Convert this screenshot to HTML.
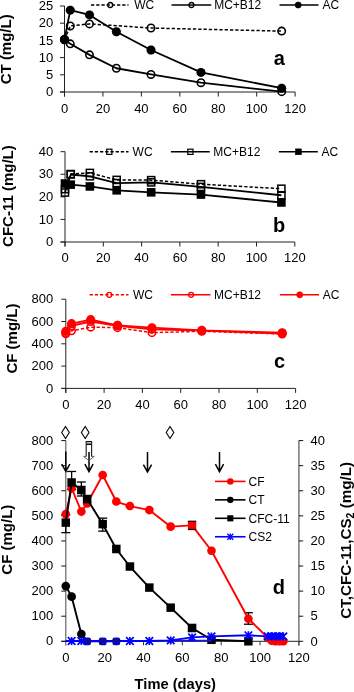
<!DOCTYPE html>
<html><head><meta charset="utf-8"><style>
html,body{margin:0;padding:0;background:#fff;}
body{width:354px;height:692px;overflow:hidden;}
svg{display:block;will-change:transform;}
text{font-family:"Liberation Sans", sans-serif;}
</style></head><body>
<svg width="354" height="692" viewBox="0 0 354 692" font-family="Liberation Sans, sans-serif">
<rect width="354" height="692" fill="#fff"/>
<line x1="64.5" y1="6" x2="64.5" y2="96.5" stroke="#222" stroke-width="1"/>
<line x1="60" y1="92" x2="295.14" y2="92" stroke="#222" stroke-width="1"/>
<line x1="60" y1="92" x2="64.5" y2="92" stroke="#222" stroke-width="1"/>
<text x="53.3" y="96.1" font-size="13" text-anchor="end" font-weight="normal" fill="#000" >0</text>
<line x1="60" y1="74.8" x2="64.5" y2="74.8" stroke="#222" stroke-width="1"/>
<text x="53.3" y="78.9" font-size="13" text-anchor="end" font-weight="normal" fill="#000" >5</text>
<line x1="60" y1="57.6" x2="64.5" y2="57.6" stroke="#222" stroke-width="1"/>
<text x="53.3" y="61.7" font-size="13" text-anchor="end" font-weight="normal" fill="#000" >10</text>
<line x1="60" y1="40.4" x2="64.5" y2="40.4" stroke="#222" stroke-width="1"/>
<text x="53.3" y="44.5" font-size="13" text-anchor="end" font-weight="normal" fill="#000" >15</text>
<line x1="60" y1="23.2" x2="64.5" y2="23.2" stroke="#222" stroke-width="1"/>
<text x="53.3" y="27.3" font-size="13" text-anchor="end" font-weight="normal" fill="#000" >20</text>
<line x1="60" y1="6" x2="64.5" y2="6" stroke="#222" stroke-width="1"/>
<text x="53.3" y="10.1" font-size="13" text-anchor="end" font-weight="normal" fill="#000" >25</text>
<line x1="64.5" y1="92" x2="64.5" y2="96.5" stroke="#222" stroke-width="1"/>
<text x="64.5" y="112.8" font-size="13" text-anchor="middle" font-weight="normal" fill="#000" >0</text>
<line x1="102.94" y1="92" x2="102.94" y2="96.5" stroke="#222" stroke-width="1"/>
<text x="102.94" y="112.8" font-size="13" text-anchor="middle" font-weight="normal" fill="#000" >20</text>
<line x1="141.38" y1="92" x2="141.38" y2="96.5" stroke="#222" stroke-width="1"/>
<text x="141.38" y="112.8" font-size="13" text-anchor="middle" font-weight="normal" fill="#000" >40</text>
<line x1="179.82" y1="92" x2="179.82" y2="96.5" stroke="#222" stroke-width="1"/>
<text x="179.82" y="112.8" font-size="13" text-anchor="middle" font-weight="normal" fill="#000" >60</text>
<line x1="218.26" y1="92" x2="218.26" y2="96.5" stroke="#222" stroke-width="1"/>
<text x="218.26" y="112.8" font-size="13" text-anchor="middle" font-weight="normal" fill="#000" >80</text>
<line x1="256.7" y1="92" x2="256.7" y2="96.5" stroke="#222" stroke-width="1"/>
<text x="256.7" y="112.8" font-size="13" text-anchor="middle" font-weight="normal" fill="#000" >100</text>
<line x1="295.14" y1="92" x2="295.14" y2="96.5" stroke="#222" stroke-width="1"/>
<text x="295.14" y="112.8" font-size="13" text-anchor="middle" font-weight="normal" fill="#000" >120</text>
<polyline points="91,5 128.5,5" fill="none" stroke="#000" stroke-width="1.6" stroke-linejoin="round" stroke-dasharray="3.3,1.9"/>
<circle cx="110.2" cy="5" r="2.5" fill="none" stroke="#000" stroke-width="1.3"/>
<text x="134.3" y="9.2" font-size="12" text-anchor="start" font-weight="normal" fill="#000" >WC</text>
<polyline points="171.5,5 211.2,5" fill="none" stroke="#000" stroke-width="1.5" stroke-linejoin="round"/>
<circle cx="191.4" cy="5" r="2.5" fill="none" stroke="#000" stroke-width="1.3"/>
<text x="214.2" y="9.2" font-size="12" text-anchor="start" font-weight="normal" fill="#000" >MC+B12</text>
<polyline points="279.5,5 318.5,5" fill="none" stroke="#000" stroke-width="1.5" stroke-linejoin="round"/>
<circle cx="298.2" cy="5" r="3.1" fill="#000" stroke="#000" stroke-width="0.6"/>
<text x="322.6" y="9.2" font-size="12" text-anchor="start" font-weight="normal" fill="#000" >AC</text>
<polyline points="64.5,39.71 70.27,25.95 89.49,23.89 150.99,28.02 281.69,31.11" fill="none" stroke="#000" stroke-width="1.5" stroke-linejoin="round" stroke-dasharray="3.3,2"/>
<circle cx="64.5" cy="39.71" r="3.7" fill="none" stroke="#000" stroke-width="1.6"/>
<circle cx="70.27" cy="25.95" r="3.7" fill="none" stroke="#000" stroke-width="1.6"/>
<circle cx="89.49" cy="23.89" r="3.7" fill="none" stroke="#000" stroke-width="1.6"/>
<circle cx="150.99" cy="28.02" r="3.7" fill="none" stroke="#000" stroke-width="1.6"/>
<circle cx="281.69" cy="31.11" r="3.7" fill="none" stroke="#000" stroke-width="1.6"/>
<polyline points="64.5,39.71 70.27,43.84 89.49,54.85 116.39,68.26 150.99,74.46 200.96,82.71 281.69,91.66" fill="none" stroke="#000" stroke-width="1.8" stroke-linejoin="round"/>
<circle cx="64.5" cy="39.71" r="3.7" fill="none" stroke="#000" stroke-width="1.6"/>
<circle cx="70.27" cy="43.84" r="3.7" fill="none" stroke="#000" stroke-width="1.6"/>
<circle cx="89.49" cy="54.85" r="3.7" fill="none" stroke="#000" stroke-width="1.6"/>
<circle cx="116.39" cy="68.26" r="3.7" fill="none" stroke="#000" stroke-width="1.6"/>
<circle cx="150.99" cy="74.46" r="3.7" fill="none" stroke="#000" stroke-width="1.6"/>
<circle cx="200.96" cy="82.71" r="3.7" fill="none" stroke="#000" stroke-width="1.6"/>
<circle cx="281.69" cy="91.66" r="3.7" fill="none" stroke="#000" stroke-width="1.6"/>
<polyline points="64.5,39.37 70.27,10.13 89.49,14.94 116.39,31.8 150.99,50.03 200.96,72.39 281.69,88.22" fill="none" stroke="#000" stroke-width="1.8" stroke-linejoin="round"/>
<circle cx="64.5" cy="39.37" r="4.5" fill="#000" stroke="#000" stroke-width="0.1"/>
<circle cx="70.27" cy="10.13" r="4.5" fill="#000" stroke="#000" stroke-width="0.1"/>
<circle cx="89.49" cy="14.94" r="4.5" fill="#000" stroke="#000" stroke-width="0.1"/>
<circle cx="116.39" cy="31.8" r="4.5" fill="#000" stroke="#000" stroke-width="0.1"/>
<circle cx="150.99" cy="50.03" r="4.5" fill="#000" stroke="#000" stroke-width="0.1"/>
<circle cx="200.96" cy="72.39" r="4.5" fill="#000" stroke="#000" stroke-width="0.1"/>
<circle cx="281.69" cy="88.22" r="4.5" fill="#000" stroke="#000" stroke-width="0.1"/>
<text x="279.2" y="64.7" font-size="20" text-anchor="middle" font-weight="bold" fill="#000" >a</text>
<text transform="translate(10.7,49.3) rotate(-90)" font-size="15" font-weight="bold" text-anchor="middle">CT (mg/L)</text>
<line x1="65" y1="151.68" x2="65" y2="246.5" stroke="#222" stroke-width="1"/>
<line x1="60.5" y1="242" x2="294.8" y2="242" stroke="#222" stroke-width="1"/>
<line x1="60.5" y1="242" x2="65" y2="242" stroke="#222" stroke-width="1"/>
<text x="53.3" y="246.1" font-size="13" text-anchor="end" font-weight="normal" fill="#000" >0</text>
<line x1="60.5" y1="219.42" x2="65" y2="219.42" stroke="#222" stroke-width="1"/>
<text x="53.3" y="223.52" font-size="13" text-anchor="end" font-weight="normal" fill="#000" >10</text>
<line x1="60.5" y1="196.84" x2="65" y2="196.84" stroke="#222" stroke-width="1"/>
<text x="53.3" y="200.94" font-size="13" text-anchor="end" font-weight="normal" fill="#000" >20</text>
<line x1="60.5" y1="174.26" x2="65" y2="174.26" stroke="#222" stroke-width="1"/>
<text x="53.3" y="178.36" font-size="13" text-anchor="end" font-weight="normal" fill="#000" >30</text>
<line x1="60.5" y1="151.68" x2="65" y2="151.68" stroke="#222" stroke-width="1"/>
<text x="53.3" y="155.78" font-size="13" text-anchor="end" font-weight="normal" fill="#000" >40</text>
<line x1="65" y1="242" x2="65" y2="246.5" stroke="#222" stroke-width="1"/>
<text x="65" y="262.4" font-size="13" text-anchor="middle" font-weight="normal" fill="#000" >0</text>
<line x1="103.3" y1="242" x2="103.3" y2="246.5" stroke="#222" stroke-width="1"/>
<text x="103.3" y="262.4" font-size="13" text-anchor="middle" font-weight="normal" fill="#000" >20</text>
<line x1="141.6" y1="242" x2="141.6" y2="246.5" stroke="#222" stroke-width="1"/>
<text x="141.6" y="262.4" font-size="13" text-anchor="middle" font-weight="normal" fill="#000" >40</text>
<line x1="179.9" y1="242" x2="179.9" y2="246.5" stroke="#222" stroke-width="1"/>
<text x="179.9" y="262.4" font-size="13" text-anchor="middle" font-weight="normal" fill="#000" >60</text>
<line x1="218.2" y1="242" x2="218.2" y2="246.5" stroke="#222" stroke-width="1"/>
<text x="218.2" y="262.4" font-size="13" text-anchor="middle" font-weight="normal" fill="#000" >80</text>
<line x1="256.5" y1="242" x2="256.5" y2="246.5" stroke="#222" stroke-width="1"/>
<text x="256.5" y="262.4" font-size="13" text-anchor="middle" font-weight="normal" fill="#000" >100</text>
<line x1="294.8" y1="242" x2="294.8" y2="246.5" stroke="#222" stroke-width="1"/>
<text x="294.8" y="262.4" font-size="13" text-anchor="middle" font-weight="normal" fill="#000" >120</text>
<polyline points="89.6,151.8 128.5,151.8" fill="none" stroke="#000" stroke-width="1.6" stroke-linejoin="round" stroke-dasharray="3.3,1.9"/>
<rect x="106.7" y="149.2" width="5.2" height="5.2" fill="none" stroke="#000" stroke-width="1.2"/>
<text x="132.6" y="156" font-size="12" text-anchor="start" font-weight="normal" fill="#000" >WC</text>
<polyline points="170.9,151.8 209.8,151.8" fill="none" stroke="#000" stroke-width="1.5" stroke-linejoin="round"/>
<rect x="187.8" y="149.2" width="5.2" height="5.2" fill="none" stroke="#000" stroke-width="1.2"/>
<text x="213.3" y="156" font-size="12" text-anchor="start" font-weight="normal" fill="#000" >MC+B12</text>
<polyline points="278.9,151.8 317.8,151.8" fill="none" stroke="#000" stroke-width="1.5" stroke-linejoin="round"/>
<rect x="295.5" y="148.9" width="5.8" height="5.8" fill="#000" stroke="#000" stroke-width="0.6"/>
<text x="321.6" y="156" font-size="12" text-anchor="start" font-weight="normal" fill="#000" >AC</text>
<polyline points="65,189.16 70.75,174.03 89.89,172.91 116.7,179.91 151.18,180.13 200.97,184.2 281.39,188.71" fill="none" stroke="#000" stroke-width="1.5" stroke-linejoin="round" stroke-dasharray="3.3,2"/>
<rect x="61.45" y="185.61" width="7.1" height="7.1" fill="none" stroke="#000" stroke-width="1.5"/>
<rect x="67.2" y="170.48" width="7.1" height="7.1" fill="none" stroke="#000" stroke-width="1.5"/>
<rect x="86.34" y="169.36" width="7.1" height="7.1" fill="none" stroke="#000" stroke-width="1.5"/>
<rect x="113.16" y="176.35" width="7.1" height="7.1" fill="none" stroke="#000" stroke-width="1.5"/>
<rect x="147.62" y="176.58" width="7.1" height="7.1" fill="none" stroke="#000" stroke-width="1.5"/>
<rect x="197.41" y="180.65" width="7.1" height="7.1" fill="none" stroke="#000" stroke-width="1.5"/>
<rect x="277.84" y="185.16" width="7.1" height="7.1" fill="none" stroke="#000" stroke-width="1.5"/>
<polyline points="65,192.55 70.75,174.49 89.89,176.29 116.7,183.07 151.18,182.39 200.97,186.9 281.39,195.26" fill="none" stroke="#000" stroke-width="1.8" stroke-linejoin="round"/>
<rect x="61.45" y="189" width="7.1" height="7.1" fill="none" stroke="#000" stroke-width="1.5"/>
<rect x="67.2" y="170.94" width="7.1" height="7.1" fill="none" stroke="#000" stroke-width="1.5"/>
<rect x="86.34" y="172.74" width="7.1" height="7.1" fill="none" stroke="#000" stroke-width="1.5"/>
<rect x="113.16" y="179.52" width="7.1" height="7.1" fill="none" stroke="#000" stroke-width="1.5"/>
<rect x="147.62" y="178.84" width="7.1" height="7.1" fill="none" stroke="#000" stroke-width="1.5"/>
<rect x="197.41" y="183.35" width="7.1" height="7.1" fill="none" stroke="#000" stroke-width="1.5"/>
<rect x="277.84" y="191.71" width="7.1" height="7.1" fill="none" stroke="#000" stroke-width="1.5"/>
<polyline points="65,183.52 70.75,184.65 89.89,186.45 116.7,190.29 151.18,192.32 200.97,194.58 281.39,202.49" fill="none" stroke="#000" stroke-width="1.8" stroke-linejoin="round"/>
<rect x="60.75" y="179.27" width="8.5" height="8.5" fill="#000" stroke="#000" stroke-width="0.1"/>
<rect x="66.5" y="180.4" width="8.5" height="8.5" fill="#000" stroke="#000" stroke-width="0.1"/>
<rect x="85.64" y="182.2" width="8.5" height="8.5" fill="#000" stroke="#000" stroke-width="0.1"/>
<rect x="112.45" y="186.04" width="8.5" height="8.5" fill="#000" stroke="#000" stroke-width="0.1"/>
<rect x="146.93" y="188.07" width="8.5" height="8.5" fill="#000" stroke="#000" stroke-width="0.1"/>
<rect x="196.72" y="190.33" width="8.5" height="8.5" fill="#000" stroke="#000" stroke-width="0.1"/>
<rect x="277.14" y="198.24" width="8.5" height="8.5" fill="#000" stroke="#000" stroke-width="0.1"/>
<text x="279.2" y="231.7" font-size="20" text-anchor="middle" font-weight="bold" fill="#000" >b</text>
<text transform="translate(13.3,196.1) rotate(-90)" font-size="15" font-weight="bold" text-anchor="middle">CFC-11 (mg/L)</text>
<line x1="65.8" y1="299.2" x2="65.8" y2="392.9" stroke="#222" stroke-width="1"/>
<line x1="61.3" y1="388.4" x2="295.6" y2="388.4" stroke="#222" stroke-width="1"/>
<line x1="61.3" y1="388.4" x2="65.8" y2="388.4" stroke="#222" stroke-width="1"/>
<text x="53.3" y="392.5" font-size="13" text-anchor="end" font-weight="normal" fill="#000" >0</text>
<line x1="61.3" y1="366.1" x2="65.8" y2="366.1" stroke="#222" stroke-width="1"/>
<text x="53.3" y="370.2" font-size="13" text-anchor="end" font-weight="normal" fill="#000" >200</text>
<line x1="61.3" y1="343.8" x2="65.8" y2="343.8" stroke="#222" stroke-width="1"/>
<text x="53.3" y="347.9" font-size="13" text-anchor="end" font-weight="normal" fill="#000" >400</text>
<line x1="61.3" y1="321.5" x2="65.8" y2="321.5" stroke="#222" stroke-width="1"/>
<text x="53.3" y="325.6" font-size="13" text-anchor="end" font-weight="normal" fill="#000" >600</text>
<line x1="61.3" y1="299.2" x2="65.8" y2="299.2" stroke="#222" stroke-width="1"/>
<text x="53.3" y="303.3" font-size="13" text-anchor="end" font-weight="normal" fill="#000" >800</text>
<line x1="65.8" y1="388.4" x2="65.8" y2="392.9" stroke="#222" stroke-width="1"/>
<text x="65.8" y="408.6" font-size="13" text-anchor="middle" font-weight="normal" fill="#000" >0</text>
<line x1="104.1" y1="388.4" x2="104.1" y2="392.9" stroke="#222" stroke-width="1"/>
<text x="104.1" y="408.6" font-size="13" text-anchor="middle" font-weight="normal" fill="#000" >20</text>
<line x1="142.4" y1="388.4" x2="142.4" y2="392.9" stroke="#222" stroke-width="1"/>
<text x="142.4" y="408.6" font-size="13" text-anchor="middle" font-weight="normal" fill="#000" >40</text>
<line x1="180.7" y1="388.4" x2="180.7" y2="392.9" stroke="#222" stroke-width="1"/>
<text x="180.7" y="408.6" font-size="13" text-anchor="middle" font-weight="normal" fill="#000" >60</text>
<line x1="219" y1="388.4" x2="219" y2="392.9" stroke="#222" stroke-width="1"/>
<text x="219" y="408.6" font-size="13" text-anchor="middle" font-weight="normal" fill="#000" >80</text>
<line x1="257.3" y1="388.4" x2="257.3" y2="392.9" stroke="#222" stroke-width="1"/>
<text x="257.3" y="408.6" font-size="13" text-anchor="middle" font-weight="normal" fill="#000" >100</text>
<line x1="295.6" y1="388.4" x2="295.6" y2="392.9" stroke="#222" stroke-width="1"/>
<text x="295.6" y="408.6" font-size="13" text-anchor="middle" font-weight="normal" fill="#000" >120</text>
<polyline points="89.6,294.8 128.5,294.8" fill="none" stroke="#f00" stroke-width="1.6" stroke-linejoin="round" stroke-dasharray="3.3,1.9"/>
<circle cx="109.3" cy="294.8" r="2.5" fill="none" stroke="#f00" stroke-width="1.3"/>
<text x="133" y="299" font-size="12" text-anchor="start" font-weight="normal" fill="#000" >WC</text>
<polyline points="170.9,294.8 210.5,294.8" fill="none" stroke="#f00" stroke-width="1.5" stroke-linejoin="round"/>
<circle cx="191.1" cy="294.8" r="2.5" fill="none" stroke="#f00" stroke-width="1.3"/>
<text x="214" y="299" font-size="12" text-anchor="start" font-weight="normal" fill="#000" >MC+B12</text>
<polyline points="279.9,294.8 319,294.8" fill="none" stroke="#f00" stroke-width="1.5" stroke-linejoin="round"/>
<circle cx="299.7" cy="294.8" r="3.1" fill="#f00" stroke="#f00" stroke-width="0.6"/>
<text x="322.8" y="299" font-size="12" text-anchor="start" font-weight="normal" fill="#000" >AC</text>
<polyline points="65.8,333.76 71.55,330.87 90.69,327.19 117.5,327.63 151.97,332.65 201.76,331.31 282.19,333.99" fill="none" stroke="#f00" stroke-width="1.5" stroke-linejoin="round" stroke-dasharray="3.3,2"/>
<circle cx="65.8" cy="333.76" r="3.7" fill="none" stroke="#f00" stroke-width="1.6"/>
<circle cx="71.55" cy="330.87" r="3.7" fill="none" stroke="#f00" stroke-width="1.6"/>
<circle cx="90.69" cy="327.19" r="3.7" fill="none" stroke="#f00" stroke-width="1.6"/>
<circle cx="117.5" cy="327.63" r="3.7" fill="none" stroke="#f00" stroke-width="1.6"/>
<circle cx="151.97" cy="332.65" r="3.7" fill="none" stroke="#f00" stroke-width="1.6"/>
<circle cx="201.76" cy="331.31" r="3.7" fill="none" stroke="#f00" stroke-width="1.6"/>
<circle cx="282.19" cy="333.99" r="3.7" fill="none" stroke="#f00" stroke-width="1.6"/>
<polyline points="65.8,332.65 71.55,325.96 90.69,321.5 117.5,325.74 151.97,329.3 201.76,330.64 282.19,333.54" fill="none" stroke="#f00" stroke-width="1.8" stroke-linejoin="round"/>
<circle cx="65.8" cy="332.65" r="3.7" fill="none" stroke="#f00" stroke-width="1.6"/>
<circle cx="71.55" cy="325.96" r="3.7" fill="none" stroke="#f00" stroke-width="1.6"/>
<circle cx="90.69" cy="321.5" r="3.7" fill="none" stroke="#f00" stroke-width="1.6"/>
<circle cx="117.5" cy="325.74" r="3.7" fill="none" stroke="#f00" stroke-width="1.6"/>
<circle cx="151.97" cy="329.3" r="3.7" fill="none" stroke="#f00" stroke-width="1.6"/>
<circle cx="201.76" cy="330.64" r="3.7" fill="none" stroke="#f00" stroke-width="1.6"/>
<circle cx="282.19" cy="333.54" r="3.7" fill="none" stroke="#f00" stroke-width="1.6"/>
<polyline points="65.8,331.31 71.55,323.62 90.69,319.6 117.5,325.29 151.97,327.63 201.76,330.31 282.19,332.65" fill="none" stroke="#f00" stroke-width="1.8" stroke-linejoin="round"/>
<circle cx="65.8" cy="331.31" r="4.5" fill="#f00" stroke="#f00" stroke-width="0.1"/>
<circle cx="71.55" cy="323.62" r="4.5" fill="#f00" stroke="#f00" stroke-width="0.1"/>
<circle cx="90.69" cy="319.6" r="4.5" fill="#f00" stroke="#f00" stroke-width="0.1"/>
<circle cx="117.5" cy="325.29" r="4.5" fill="#f00" stroke="#f00" stroke-width="0.1"/>
<circle cx="151.97" cy="327.63" r="4.5" fill="#f00" stroke="#f00" stroke-width="0.1"/>
<circle cx="201.76" cy="330.31" r="4.5" fill="#f00" stroke="#f00" stroke-width="0.1"/>
<circle cx="282.19" cy="332.65" r="4.5" fill="#f00" stroke="#f00" stroke-width="0.1"/>
<text x="279.6" y="367.5" font-size="20" text-anchor="middle" font-weight="bold" fill="#000" >c</text>
<text transform="translate(16.5,338.6) rotate(-90)" font-size="15" font-weight="bold" text-anchor="middle">CF (mg/L)</text>
<line x1="65.8" y1="440.58" x2="65.8" y2="645.8" stroke="#666" stroke-width="1.2"/>
<line x1="61.3" y1="641.3" x2="298.9" y2="641.3" stroke="#222" stroke-width="1"/>
<line x1="61.3" y1="641.3" x2="65.8" y2="641.3" stroke="#111" stroke-width="1"/>
<text x="53.3" y="645.4" font-size="13" text-anchor="end" font-weight="normal" fill="#000" >0</text>
<line x1="61.3" y1="616.21" x2="65.8" y2="616.21" stroke="#111" stroke-width="1"/>
<text x="53.3" y="620.31" font-size="13" text-anchor="end" font-weight="normal" fill="#000" >100</text>
<line x1="61.3" y1="591.12" x2="65.8" y2="591.12" stroke="#111" stroke-width="1"/>
<text x="53.3" y="595.22" font-size="13" text-anchor="end" font-weight="normal" fill="#000" >200</text>
<line x1="61.3" y1="566.03" x2="65.8" y2="566.03" stroke="#111" stroke-width="1"/>
<text x="53.3" y="570.13" font-size="13" text-anchor="end" font-weight="normal" fill="#000" >300</text>
<line x1="61.3" y1="540.94" x2="65.8" y2="540.94" stroke="#111" stroke-width="1"/>
<text x="53.3" y="545.04" font-size="13" text-anchor="end" font-weight="normal" fill="#000" >400</text>
<line x1="61.3" y1="515.85" x2="65.8" y2="515.85" stroke="#111" stroke-width="1"/>
<text x="53.3" y="519.95" font-size="13" text-anchor="end" font-weight="normal" fill="#000" >500</text>
<line x1="61.3" y1="490.76" x2="65.8" y2="490.76" stroke="#111" stroke-width="1"/>
<text x="53.3" y="494.86" font-size="13" text-anchor="end" font-weight="normal" fill="#000" >600</text>
<line x1="61.3" y1="465.67" x2="65.8" y2="465.67" stroke="#111" stroke-width="1"/>
<text x="53.3" y="469.77" font-size="13" text-anchor="end" font-weight="normal" fill="#000" >700</text>
<line x1="61.3" y1="440.58" x2="65.8" y2="440.58" stroke="#111" stroke-width="1"/>
<text x="53.3" y="444.68" font-size="13" text-anchor="end" font-weight="normal" fill="#000" >800</text>
<text x="65.8" y="662.3" font-size="13" text-anchor="middle" font-weight="normal" fill="#000" >0</text>
<line x1="104.65" y1="641.3" x2="104.65" y2="645.3" stroke="#333" stroke-width="1"/>
<text x="104.65" y="662.3" font-size="13" text-anchor="middle" font-weight="normal" fill="#000" >20</text>
<line x1="143.5" y1="641.3" x2="143.5" y2="645.3" stroke="#333" stroke-width="1"/>
<text x="143.5" y="662.3" font-size="13" text-anchor="middle" font-weight="normal" fill="#000" >40</text>
<line x1="182.35" y1="641.3" x2="182.35" y2="645.3" stroke="#333" stroke-width="1"/>
<text x="182.35" y="662.3" font-size="13" text-anchor="middle" font-weight="normal" fill="#000" >60</text>
<line x1="221.2" y1="641.3" x2="221.2" y2="645.3" stroke="#333" stroke-width="1"/>
<text x="221.2" y="662.3" font-size="13" text-anchor="middle" font-weight="normal" fill="#000" >80</text>
<line x1="260.05" y1="641.3" x2="260.05" y2="645.3" stroke="#333" stroke-width="1"/>
<text x="260.05" y="662.3" font-size="13" text-anchor="middle" font-weight="normal" fill="#000" >100</text>
<line x1="298.9" y1="641.3" x2="298.9" y2="645.3" stroke="#333" stroke-width="1"/>
<text x="298.9" y="662.3" font-size="13" text-anchor="middle" font-weight="normal" fill="#000" >120</text>
<line x1="298.9" y1="440.58" x2="298.9" y2="645.8" stroke="#555" stroke-width="1.2"/>
<line x1="298.9" y1="641.3" x2="303.2" y2="641.3" stroke="#111" stroke-width="1"/>
<text x="310.5" y="645.5" font-size="13" text-anchor="start" font-weight="normal" fill="#000" >0</text>
<line x1="298.9" y1="616.21" x2="303.2" y2="616.21" stroke="#111" stroke-width="1"/>
<text x="310.5" y="620.41" font-size="13" text-anchor="start" font-weight="normal" fill="#000" >5</text>
<line x1="298.9" y1="591.12" x2="303.2" y2="591.12" stroke="#111" stroke-width="1"/>
<text x="310.5" y="595.32" font-size="13" text-anchor="start" font-weight="normal" fill="#000" >10</text>
<line x1="298.9" y1="566.03" x2="303.2" y2="566.03" stroke="#111" stroke-width="1"/>
<text x="310.5" y="570.23" font-size="13" text-anchor="start" font-weight="normal" fill="#000" >15</text>
<line x1="298.9" y1="540.94" x2="303.2" y2="540.94" stroke="#111" stroke-width="1"/>
<text x="310.5" y="545.14" font-size="13" text-anchor="start" font-weight="normal" fill="#000" >20</text>
<line x1="298.9" y1="515.85" x2="303.2" y2="515.85" stroke="#111" stroke-width="1"/>
<text x="310.5" y="520.05" font-size="13" text-anchor="start" font-weight="normal" fill="#000" >25</text>
<line x1="298.9" y1="490.76" x2="303.2" y2="490.76" stroke="#111" stroke-width="1"/>
<text x="310.5" y="494.96" font-size="13" text-anchor="start" font-weight="normal" fill="#000" >30</text>
<line x1="298.9" y1="465.67" x2="303.2" y2="465.67" stroke="#111" stroke-width="1"/>
<text x="310.5" y="469.87" font-size="13" text-anchor="start" font-weight="normal" fill="#000" >35</text>
<line x1="298.9" y1="440.58" x2="303.2" y2="440.58" stroke="#111" stroke-width="1"/>
<text x="310.5" y="444.78" font-size="13" text-anchor="start" font-weight="normal" fill="#000" >40</text>
<text x="175.3" y="688.7" font-size="14.7" text-anchor="middle" font-weight="bold" fill="#000" >Time (days)</text>
<text transform="translate(12,539.7) rotate(-90)" font-size="15" font-weight="bold" text-anchor="middle">CF (mg/L)</text>
<text transform="translate(350.6,540.4) rotate(-90)" font-size="15.2" font-weight="bold" text-anchor="middle">CT,CFC-11,CS<tspan font-size="10.5" dy="3">2</tspan><tspan dy="-3"> (mg/L)</tspan></text>
<text x="278.8" y="594.3" font-size="20" text-anchor="middle" font-weight="bold" fill="#000" >d</text>
<line x1="65.8" y1="514.62" x2="65.8" y2="532.62" stroke="#000" stroke-width="1.3"/>
<line x1="61.3" y1="514.62" x2="70.3" y2="514.62" stroke="#000" stroke-width="1.3"/>
<line x1="61.3" y1="532.62" x2="70.3" y2="532.62" stroke="#000" stroke-width="1.3"/>
<line x1="71.63" y1="471.48" x2="71.63" y2="489.48" stroke="#000" stroke-width="1.3"/>
<line x1="67.13" y1="471.48" x2="76.13" y2="471.48" stroke="#000" stroke-width="1.3"/>
<line x1="67.13" y1="489.48" x2="76.13" y2="489.48" stroke="#000" stroke-width="1.3"/>
<line x1="81.34" y1="482.01" x2="81.34" y2="496.01" stroke="#000" stroke-width="1.3"/>
<line x1="76.84" y1="482.01" x2="85.84" y2="482.01" stroke="#000" stroke-width="1.3"/>
<line x1="76.84" y1="496.01" x2="85.84" y2="496.01" stroke="#000" stroke-width="1.3"/>
<line x1="102.71" y1="518.13" x2="102.71" y2="531.13" stroke="#000" stroke-width="1.3"/>
<line x1="98.21" y1="518.13" x2="107.21" y2="518.13" stroke="#000" stroke-width="1.3"/>
<line x1="98.21" y1="531.13" x2="107.21" y2="531.13" stroke="#000" stroke-width="1.3"/>
<line x1="248.39" y1="612.72" x2="248.39" y2="624.22" stroke="#000" stroke-width="1.3"/>
<line x1="243.89" y1="612.72" x2="252.89" y2="612.72" stroke="#000" stroke-width="1.3"/>
<line x1="243.89" y1="624.22" x2="252.89" y2="624.22" stroke="#000" stroke-width="1.3"/>
<polyline points="65.8,514.09 71.63,488.25 81.34,511.58 87.17,503.56 102.71,474.95 116.3,501.55 129.9,506.06 149.33,510.08 170.69,526.64 192.06,525.38 211.49,550.73 248.39,618.72 267.82,637.79 271.7,640.8 275.59,641.3 279.47,641.3 283.36,641.3" fill="none" stroke="#f00" stroke-width="1.9" stroke-linejoin="round"/>
<circle cx="65.8" cy="514.09" r="4.3" fill="#f00" stroke="#f00" stroke-width="0.1"/>
<circle cx="71.63" cy="488.25" r="4.3" fill="#f00" stroke="#f00" stroke-width="0.1"/>
<circle cx="81.34" cy="511.58" r="4.3" fill="#f00" stroke="#f00" stroke-width="0.1"/>
<circle cx="87.17" cy="503.56" r="4.3" fill="#f00" stroke="#f00" stroke-width="0.1"/>
<circle cx="102.71" cy="474.95" r="4.3" fill="#f00" stroke="#f00" stroke-width="0.1"/>
<circle cx="116.3" cy="501.55" r="4.3" fill="#f00" stroke="#f00" stroke-width="0.1"/>
<circle cx="129.9" cy="506.06" r="4.3" fill="#f00" stroke="#f00" stroke-width="0.1"/>
<circle cx="149.33" cy="510.08" r="4.3" fill="#f00" stroke="#f00" stroke-width="0.1"/>
<circle cx="170.69" cy="526.64" r="4.3" fill="#f00" stroke="#f00" stroke-width="0.1"/>
<rect x="187.96" y="521.28" width="8.2" height="8.2" fill="#f00" stroke="#f00" stroke-width="0.1"/>
<circle cx="211.49" cy="550.73" r="4.3" fill="#f00" stroke="#f00" stroke-width="0.1"/>
<circle cx="248.39" cy="618.72" r="4.3" fill="#f00" stroke="#f00" stroke-width="0.1"/>
<circle cx="267.82" cy="637.79" r="4.3" fill="#f00" stroke="#f00" stroke-width="0.1"/>
<circle cx="271.7" cy="640.8" r="4.3" fill="#f00" stroke="#f00" stroke-width="0.1"/>
<circle cx="275.59" cy="641.3" r="4.3" fill="#f00" stroke="#f00" stroke-width="0.1"/>
<circle cx="279.47" cy="641.3" r="4.3" fill="#f00" stroke="#f00" stroke-width="0.1"/>
<circle cx="283.36" cy="641.3" r="4.3" fill="#f00" stroke="#f00" stroke-width="0.1"/>
<line x1="187.96" y1="521.28" x2="196.16" y2="521.28" stroke="#200" stroke-width="1.3"/>
<line x1="187.96" y1="529.48" x2="196.16" y2="529.48" stroke="#200" stroke-width="1.3"/>
<polyline points="65.8,522.62 71.63,482.48 81.34,490.01 87.17,499.04 102.71,524.13 116.3,548.97 129.9,566.53 149.33,587.61 170.69,607.68 192.06,628 211.49,639.79 248.39,641.3" fill="none" stroke="#000" stroke-width="1.9" stroke-linejoin="round"/>
<rect x="61.6" y="518.42" width="8.4" height="8.4" fill="#000" stroke="#000" stroke-width="0.1"/>
<rect x="67.43" y="478.28" width="8.4" height="8.4" fill="#000" stroke="#000" stroke-width="0.1"/>
<rect x="77.14" y="485.81" width="8.4" height="8.4" fill="#000" stroke="#000" stroke-width="0.1"/>
<rect x="82.97" y="494.84" width="8.4" height="8.4" fill="#000" stroke="#000" stroke-width="0.1"/>
<rect x="98.51" y="519.93" width="8.4" height="8.4" fill="#000" stroke="#000" stroke-width="0.1"/>
<rect x="112.1" y="544.77" width="8.4" height="8.4" fill="#000" stroke="#000" stroke-width="0.1"/>
<rect x="125.7" y="562.33" width="8.4" height="8.4" fill="#000" stroke="#000" stroke-width="0.1"/>
<rect x="145.13" y="583.41" width="8.4" height="8.4" fill="#000" stroke="#000" stroke-width="0.1"/>
<rect x="166.5" y="603.48" width="8.4" height="8.4" fill="#000" stroke="#000" stroke-width="0.1"/>
<rect x="187.86" y="623.8" width="8.4" height="8.4" fill="#000" stroke="#000" stroke-width="0.1"/>
<rect x="207.29" y="635.59" width="8.4" height="8.4" fill="#000" stroke="#000" stroke-width="0.1"/>
<rect x="244.19" y="637.1" width="8.4" height="8.4" fill="#000" stroke="#000" stroke-width="0.1"/>
<polyline points="65.8,586.1 71.63,596.64 81.34,634.02 87.17,641.3 102.71,641.3 116.3,641.3" fill="none" stroke="#000" stroke-width="1.9" stroke-linejoin="round"/>
<circle cx="65.8" cy="586.1" r="4.3" fill="#000" stroke="#000" stroke-width="0.1"/>
<circle cx="71.63" cy="596.64" r="4.3" fill="#000" stroke="#000" stroke-width="0.1"/>
<circle cx="81.34" cy="634.02" r="4.3" fill="#000" stroke="#000" stroke-width="0.1"/>
<line x1="170.69" y1="640.6" x2="211.49" y2="640.6" stroke="#1a1ad0" stroke-width="1.8"/>
<polyline points="65.8,641 71.63,641 81.34,641 87.17,641 102.71,641 116.3,641 129.9,641 149.33,641 170.69,640.4 192.06,637.4 211.49,636.4 248.39,635.3 267.82,636.4 271.7,636.2 275.59,636.4 279.47,636.2 283.36,636.4" fill="none" stroke="#00f" stroke-width="1.9" stroke-linejoin="round"/>
<rect x="83.27" y="637.4" width="7.8" height="7.8" rx="2.2" fill="#0c0ca8"/>
<rect x="98.81" y="637.4" width="7.8" height="7.8" rx="2.2" fill="#0c0ca8"/>
<rect x="112.4" y="637.4" width="7.8" height="7.8" rx="2.2" fill="#0c0ca8"/>
<path d="M67.83,637.2L75.43,644.8M67.83,644.8L75.43,637.2M71.63,637.01L71.63,644.99" stroke="#00f" stroke-width="1.7" fill="none"/>
<path d="M77.54,637.2L85.14,644.8M77.54,644.8L85.14,637.2M81.34,637.01L81.34,644.99" stroke="#00f" stroke-width="1.7" fill="none"/>
<path d="M126.1,637.2L133.7,644.8M126.1,644.8L133.7,637.2M129.9,637.01L129.9,644.99" stroke="#00f" stroke-width="1.7" fill="none"/>
<path d="M145.53,637.2L153.13,644.8M145.53,644.8L153.13,637.2M149.33,637.01L149.33,644.99" stroke="#00f" stroke-width="1.7" fill="none"/>
<path d="M166.89,636.6L174.5,644.2M166.89,644.2L174.5,636.6M170.69,636.41L170.69,644.39" stroke="#00f" stroke-width="1.7" fill="none"/>
<path d="M188.26,633.6L195.86,641.2M188.26,641.2L195.86,633.6M192.06,633.41L192.06,641.39" stroke="#00f" stroke-width="1.7" fill="none"/>
<path d="M207.69,632.6L215.29,640.2M207.69,640.2L215.29,632.6M211.49,632.41L211.49,640.39" stroke="#00f" stroke-width="1.7" fill="none"/>
<path d="M244.59,631.5L252.19,639.1M244.59,639.1L252.19,631.5M248.39,631.31L248.39,639.29" stroke="#00f" stroke-width="1.7" fill="none"/>
<path d="M264.02,632.6L271.62,640.2M264.02,640.2L271.62,632.6M267.82,632.41L267.82,640.39" stroke="#00f" stroke-width="1.7" fill="none"/>
<path d="M267.9,632.4L275.5,640M267.9,640L275.5,632.4M271.7,632.21L271.7,640.19" stroke="#00f" stroke-width="1.7" fill="none"/>
<path d="M271.79,632.6L279.39,640.2M271.79,640.2L279.39,632.6M275.59,632.41L275.59,640.39" stroke="#00f" stroke-width="1.7" fill="none"/>
<path d="M275.67,632.4L283.27,640M275.67,640L283.27,632.4M279.47,632.21L279.47,640.19" stroke="#00f" stroke-width="1.7" fill="none"/>
<path d="M279.56,632.6L287.16,640.2M279.56,640.2L287.16,632.6M283.36,632.41L283.36,640.39" stroke="#00f" stroke-width="1.7" fill="none"/>
<polyline points="215,481.4 245.5,481.4" fill="none" stroke="#f00" stroke-width="1.6" stroke-linejoin="round"/>
<circle cx="230.3" cy="481.4" r="3.2" fill="#f00" stroke="#f00" stroke-width="0.1"/>
<text x="248.6" y="485.7" font-size="12" text-anchor="start" font-weight="normal" fill="#000" >CF</text>
<polyline points="215,499.85 245.5,499.85" fill="none" stroke="#000" stroke-width="1.6" stroke-linejoin="round"/>
<circle cx="230.3" cy="499.85" r="3.2" fill="#000" stroke="#000" stroke-width="0.1"/>
<text x="248.6" y="504.15" font-size="12" text-anchor="start" font-weight="normal" fill="#000" >CT</text>
<polyline points="215,518.3 245.5,518.3" fill="none" stroke="#000" stroke-width="1.6" stroke-linejoin="round"/>
<rect x="227.3" y="515.3" width="6" height="6" fill="#000" stroke="#000" stroke-width="0.1"/>
<text x="248.6" y="522.6" font-size="12" text-anchor="start" font-weight="normal" fill="#000" >CFC-11</text>
<polyline points="215,536.75 245.5,536.75" fill="none" stroke="#00f" stroke-width="1.6" stroke-linejoin="round"/>
<path d="M227.3,533.75L233.3,539.75M227.3,539.75L233.3,533.75M230.3,533.6L230.3,539.9" stroke="#00f" stroke-width="1.3" fill="none"/>
<text x="248.6" y="541.05" font-size="12" text-anchor="start" font-weight="normal" fill="#000" >CS2</text>
<path d="M65.8,451.5L65.8,471.4M61.7,464L65.8,471.4L69.9,464" stroke="#000" stroke-width="1.5" fill="none"/>
<path d="M89,452L89,471.6M84.9,464.2L89,471.6L93.1,464.2" stroke="#000" stroke-width="1.5" fill="none"/>
<path d="M147.5,452L147.5,472M143.4,464.6L147.5,472L151.6,464.6" stroke="#000" stroke-width="1.5" fill="none"/>
<path d="M219.5,452L219.5,471.6M215.4,464.2L219.5,471.6L223.6,464.2" stroke="#000" stroke-width="1.5" fill="none"/>
<path d="M86.2,456.4L83.6,456.4L88.9,460.5L94.2,456.4L91.6,456.4" stroke="#555" stroke-width="0.9" fill="none"/>
<path d="M86.2,441.6L91.6,441.6M86.2,444.2L91.6,444.2" stroke="#000" stroke-width="1.4" fill="none"/>
<path d="M86.2,441L86.2,456.6M91.6,441L91.6,456.6" stroke="#222" stroke-width="1.15" fill="none"/>
<path d="M65.5,426.5L69.3,432.5L65.5,438.5L61.7,432.5Z" stroke="#000" stroke-width="1.1" fill="none"/>
<path d="M85.2,426.5L89,432.5L85.2,438.5L81.4,432.5Z" stroke="#000" stroke-width="1.1" fill="none"/>
<path d="M170,426.5L173.8,432.5L170,438.5L166.2,432.5Z" stroke="#000" stroke-width="1.1" fill="none"/>
</svg>
</body></html>
